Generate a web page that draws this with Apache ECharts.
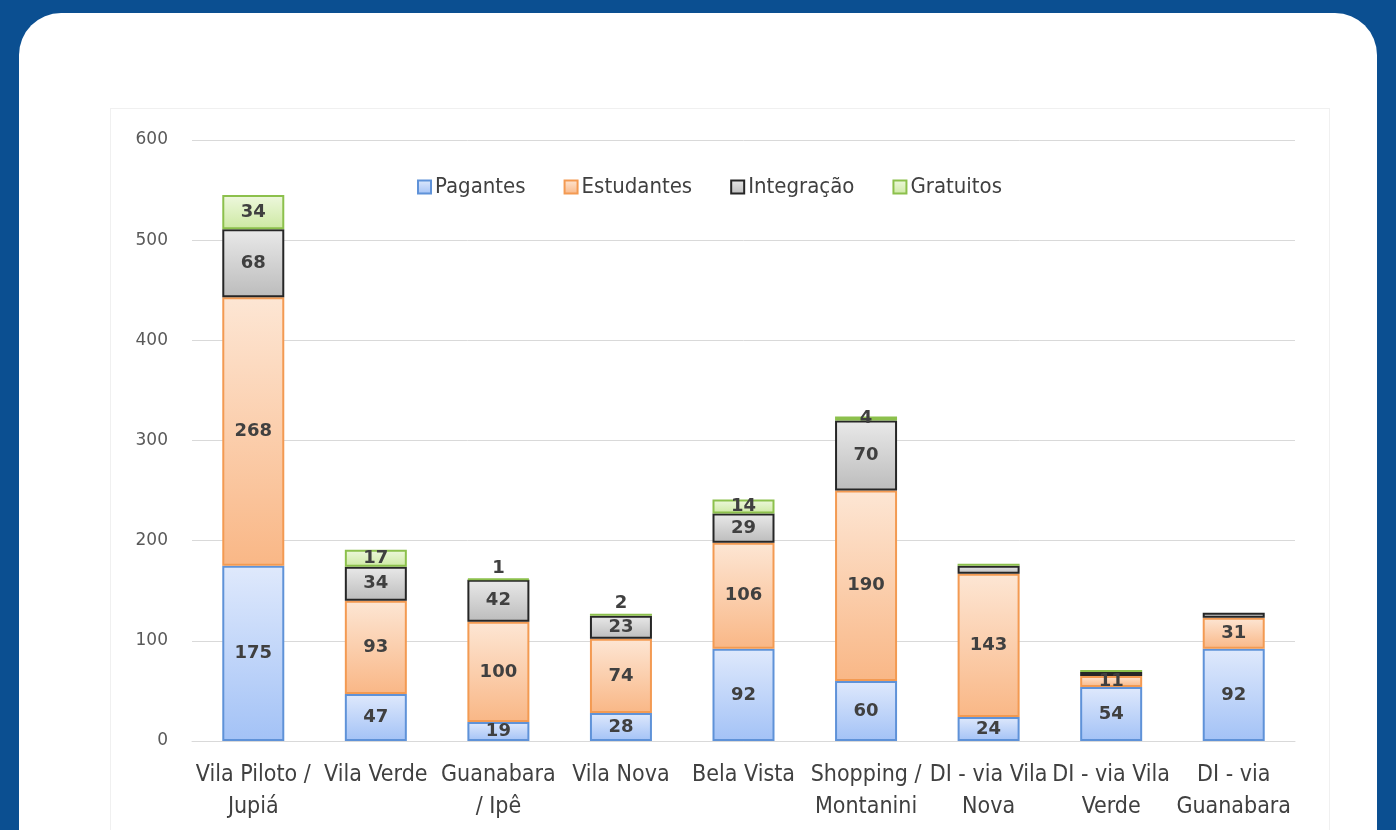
<!DOCTYPE html>
<html>
<head>
<meta charset="utf-8">
<script src="https://cdn.jsdelivr.net/npm/echarts@6/dist/echarts.min.js"></script>
<style>
  html, body { margin: 0; padding: 0; }
  body { width: 1396px; height: 830px; background: #0b4f91; position: relative; overflow: hidden; }
  .card { position: absolute; left: 19px; top: 13px; width: 1358px; height: 860px; background: #fff; border-radius: 42px 42px 0 0; }
  .frame { position: absolute; left: 110px; top: 108px; width: 1218px; height: 760px; border: 1px solid #f0f0f0; }
  .echarts { position: absolute; left: 0; top: 0; width: 1396px; height: 830px; }
</style>
</head>
<body>
<div class="card"></div>
<div class="frame"></div>
<div class="echarts" id="chart"></div>
<script>
const categories = ['Vila Piloto /\nJupiá', 'Vila Verde', 'Guanabara\n/ Ipê', 'Vila Nova', 'Bela Vista', 'Shopping /\nMontanini', 'DI - via Vila\nNova', 'DI - via Vila\nVerde', 'DI - via\nGuanabara']
const pagantes = [175, 47, 19, 28, 92, 60, 24, 54, 92]
const estudantes = [268, 93, 100, 74, 106, 190, 143, 11, 31]
const integracao = [68, 34, 42, 23, 29, 70, 8, 4, 5]
const gratuitos = [34, 17, 1, 2, 14, 4, 2, 2, 0]
const yTicks = [0, 100, 200, 300, 400, 500, 600]
// bars whose small segments have no value shown
const semRotulo = [6, 7, 8]

const narrow = '"Liberation Sans Narrow", "DejaVu Sans Condensed", sans-serif'

function grad(top, bottom) {
  return {
    type: 'linear', x: 0, y: 0, x2: 0, y2: 1,
    colorStops: [{ offset: 0, color: top }, { offset: 1, color: bottom }]
  }
}

function items(values, hideSmall) {
  return values.map((v, i) => {
    const item = { value: v === 0 ? null : v }
    if (hideSmall && semRotulo.includes(i)) item.label = { show: false }
    else if (v <= 2) item.label = { position: 'top', distance: 1 }
    return item
  })
}

function serie(name, values, top, bottom, border, hideSmall) {
  return {
    name,
    type: 'bar',
    stack: 'total',
    barWidth: 62,
    data: items(values, hideSmall),
    itemStyle: { color: grad(top, bottom), borderColor: border, borderWidth: 2 },
    label: {
      show: true,
      position: 'inside',
      color: '#404040',
      fontSize: 18,
      fontWeight: 'bold',
      fontFamily: '"DejaVu Sans", Verdana, sans-serif'
    },
    emphasis: { disabled: true }
  }
}

const myChart = echarts.init(document.getElementById('chart'))
const option = {
  animation: false,
  grid: { left: 192, right: 101, top: 140, bottom: 89 },
  legend: {
    top: 171,
    left: 412,
    icon: 'rect',
    itemWidth: 13,
    itemHeight: 13,
    itemGap: 38,
    textStyle: { color: '#404040', fontSize: 22, fontFamily: narrow, padding: [0, 0, 0, -1] }
  },
  xAxis: {
    type: 'category',
    data: categories,
    axisTick: { show: false },
    axisLine: { lineStyle: { color: '#d9d9d9', width: 1 } },
    axisLabel: {
      interval: 0,
      color: '#404040',
      fontSize: 23,
      lineHeight: 32,
      margin: 18,
      fontFamily: narrow
    }
  },
  yAxis: {
    type: 'value',
    min: yTicks[0],
    max: yTicks[yTicks.length - 1],
    interval: 100,
    axisLine: { show: false },
    axisTick: { show: false },
    splitLine: { lineStyle: { color: '#d9d9d9' } },
    axisLabel: {
      color: '#595959',
      fontSize: 17,
      margin: 24,
      fontFamily: '"DejaVu Sans", Verdana, sans-serif'
    }
  },
  series: [
    serie('Pagantes', pagantes, '#dfe9fc', '#a3c2f6', '#5f92d8', false),
    serie('Estudantes', estudantes, '#fde6d4', '#f9b786', '#f39a52', false),
    serie('Integração', integracao, '#e9e9e9', '#bcbcbc', '#262626', true),
    serie('Gratuitos', gratuitos, '#eef8de', '#cde9a2', '#8cc04c', true)
  ]
}
myChart.setOption(option)
</script>
</body>
</html>
